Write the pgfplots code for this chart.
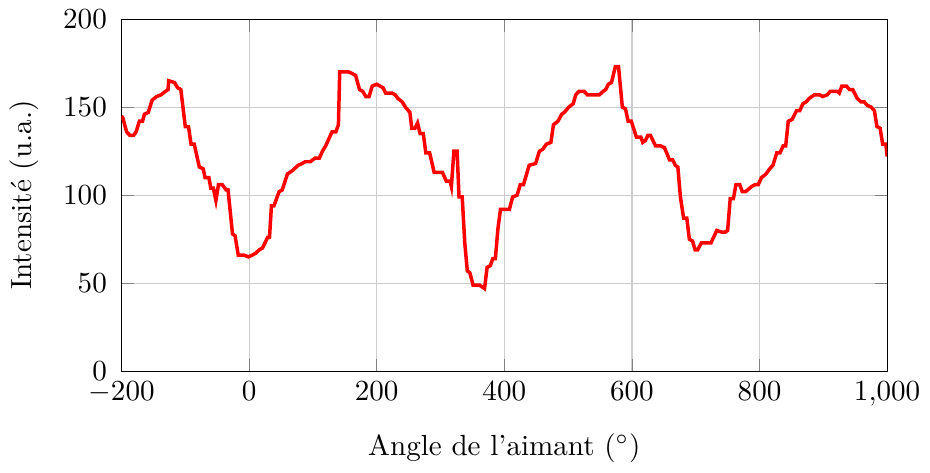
\documentclass[border=0pt]{standalone}
\usepackage{fontspec}
\usepackage{pgfplots}
\pgfplotsset{compat=1.18}
\begin{document}
\begin{tikzpicture}
\begin{axis}[
  scale only axis,
  width=263pt, height=121pt,
  xmin=-200, xmax=1000, ymin=0, ymax=200,
  xtick={-200,0,200,400,600,800,1000},
  ytick={0,50,100,150,200},
  grid=major,
  grid style={gray!40, line width=0.4pt},
  yticklabel style={xshift=-1.5pt},
  xlabel={Angle de l'aimant ($^\circ$)},
  ylabel={Intensité (u.a.)},
  xlabel style={yshift=-2.5pt},
  ylabel style={yshift=1.5pt},
]
\addplot[red, line width=1.2pt, mark=none] coordinates {
(-200,145) (-198,144) (-192,136) (-187,134) (-181,134) (-177,136) (-172,142) (-167,142)
(-164,146) (-158,147) (-152,154) (-145,156) (-138,157) (-131,159) (-127,160) (-126,165)
(-117,164) (-112,161) (-107,160) (-100,139) (-95,139) (-91,129) (-86,129) (-78,116)
(-72,115) (-69,110) (-63,110) (-60,104) (-56,104) (-52,97) (-48,106) (-42,106)
(-36,103) (-33,103) (-26,78) (-22,77) (-17,66) (-8,66) (-1,65) (5,66) (10,67)
(16,69) (21,70) (29,76) (32,76) (35,94) (39,94) (47,102) (52,103) (60,112) (68,114)
(77,117) (83,118) (88,119) (96,119) (103,121) (110,121) (115,125) (120,128) (125,132)
(130,136) (136,136) (140,140) (142,170) (156,170) (162,169) (167,168) (173,160)
(178,159) (183,156) (188,156) (193,162) (200,163) (205,162) (210,161) (214,158)
(224,158) (229,157) (233,155) (240,153) (245,150) (252,147) (255,138) (260,138)
(264,141) (268,135) (273,135) (277,124) (283,124) (290,113) (295,113) (303,113)
(309,108) (315,108) (317,105) (321,125) (326,125) (329,99) (334,99) (338,73)
(342,57) (346,56) (351,49) (361,49) (369,47) (373,59) (378,60) (382,64) (386,64)
(390,81) (394,92) (398,92) (408,92) (413,99) (420,100) (425,106) (430,106)
(439,117) (449,118) (455,125) (460,126) (466,129) (473,130) (477,140) (484,142)
(490,146) (494,147) (501,150) (508,152) (512,157) (517,159) (525,159) (530,157)
(549,157) (555,159) (559,160) (563,163) (568,164) (574,173) (579,173) (585,150)
(590,149) (594,142) (599,142) (607,133) (614,133) (617,130) (621,131) (625,134)
(629,134) (637,128) (645,128) (651,127) (659,120) (664,120) (668,117) (672,116)
(676,99) (681,87) (686,87) (690,75) (695,74) (699,69) (703,69) (709,73) (724,73)
(733,80) (741,79) (746,79) (750,80) (754,98) (759,98) (763,106) (769,106)
(773,102) (778,102) (788,105) (793,106) (798,106) (803,110) (810,112) (816,115)
(821,117) (827,124) (832,124) (837,128) (841,128) (845,142) (851,143) (858,148)
(863,148) (868,152) (873,153) (878,155) (886,157) (894,157) (899,156) (906,157)
(911,159) (922,159) (925,158) (929,162) (936,162) (941,160) (946,160) (953,155)
(959,153) (964,153) (969,151) (975,150) (980,148) (984,139) (989,138) (993,129)
(998,129) (1000,122)
};
\end{axis}
\end{tikzpicture}
\end{document}
